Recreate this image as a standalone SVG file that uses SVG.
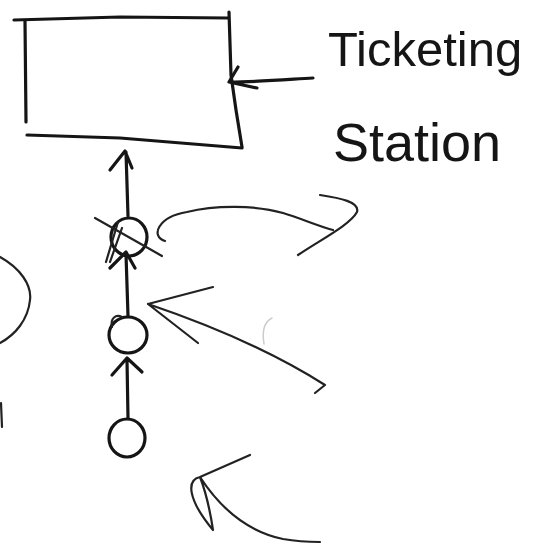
<svg xmlns="http://www.w3.org/2000/svg" width="537" height="548" viewBox="0 0 537 548">
<style>
.ink{fill:none;stroke:#151515;stroke-width:3.2;stroke-linecap:round;stroke-linejoin:round}
.thin{fill:none;stroke:#222;stroke-width:2.2;stroke-linecap:round;stroke-linejoin:round}
.faint{fill:none;stroke:#ccc;stroke-width:1.5;stroke-linecap:round}
.lbl{font-family:"Liberation Sans",Arial,sans-serif;fill:#151515;font-weight:normal}
</style>
<rect width="537" height="548" fill="#fff"/>
<g id="ticketing-station">
<path class="ink" d="M14,20 L120,17 L228,18"/>
<path class="ink" d="M25,21 L26,122"/>
<path class="ink" d="M229,12 L231,75 L236,110 L242,147"/>
<path class="ink" d="M27,135 L120,138 L242,148"/>
</g>
<g id="label">
<text class="lbl" x="328" y="66" font-size="49">Ticketing</text>
<text class="lbl" x="333" y="161" font-size="54">Station</text>
</g>
<g id="node-top">
<ellipse class="ink" cx="129" cy="237" rx="18" ry="19"/>
<path class="thin" d="M95,218 L162,256"/>
<path class="thin" d="M118,222 L106,262 M122,228 L110,262"/>
</g>
<g id="node-middle">
<ellipse class="ink" cx="128" cy="335" rx="19" ry="18"/>
<path class="thin" d="M112,327 C110,318 116,314 122,317"/>
</g>
<g id="node-bottom">
<ellipse class="ink" cx="127" cy="438" rx="18" ry="19"/>
</g>
<g id="connectors">
<path class="ink" d="M128,216 L126,152 M110,170 L125,151 L132,168"/>
<path class="ink" d="M128,316 L126,254 M110,268 L126,252 L135,268"/>
<path class="ink" d="M128,418 L127,360 M112,375 L127,358 L142,372"/>
<path class="ink" d="M313,78 C280,80 255,82 230,82 M238,67 L229,82 L257,88"/>
<path class="thin" d="M165,241 C150,236 158,217 187,212 C215,205 255,205 283,213 C300,218 318,226 333,230"/>
<path class="thin" d="M320,195 C340,198 360,202 357,212 C350,225 320,240 298,255"/>
<path class="thin" d="M213,287 L148,304 L198,343 M148,304 C210,325 270,350 325,385 L315,393"/>
<path class="thin" d="M250,455 L200,477 C186,480 188,500 213,530 C210,510 205,490 200,477 C215,500 240,530 283,539 C300,542 315,542 320,542"/>
<path class="thin" d="M0,257 C20,268 32,285 30,300 C28,320 15,335 0,343"/>
<path class="thin" d="M1,403 L2,427"/>
<path class="faint" d="M272,318 C264,322 262,332 264,344"/>
</g>
</svg>
